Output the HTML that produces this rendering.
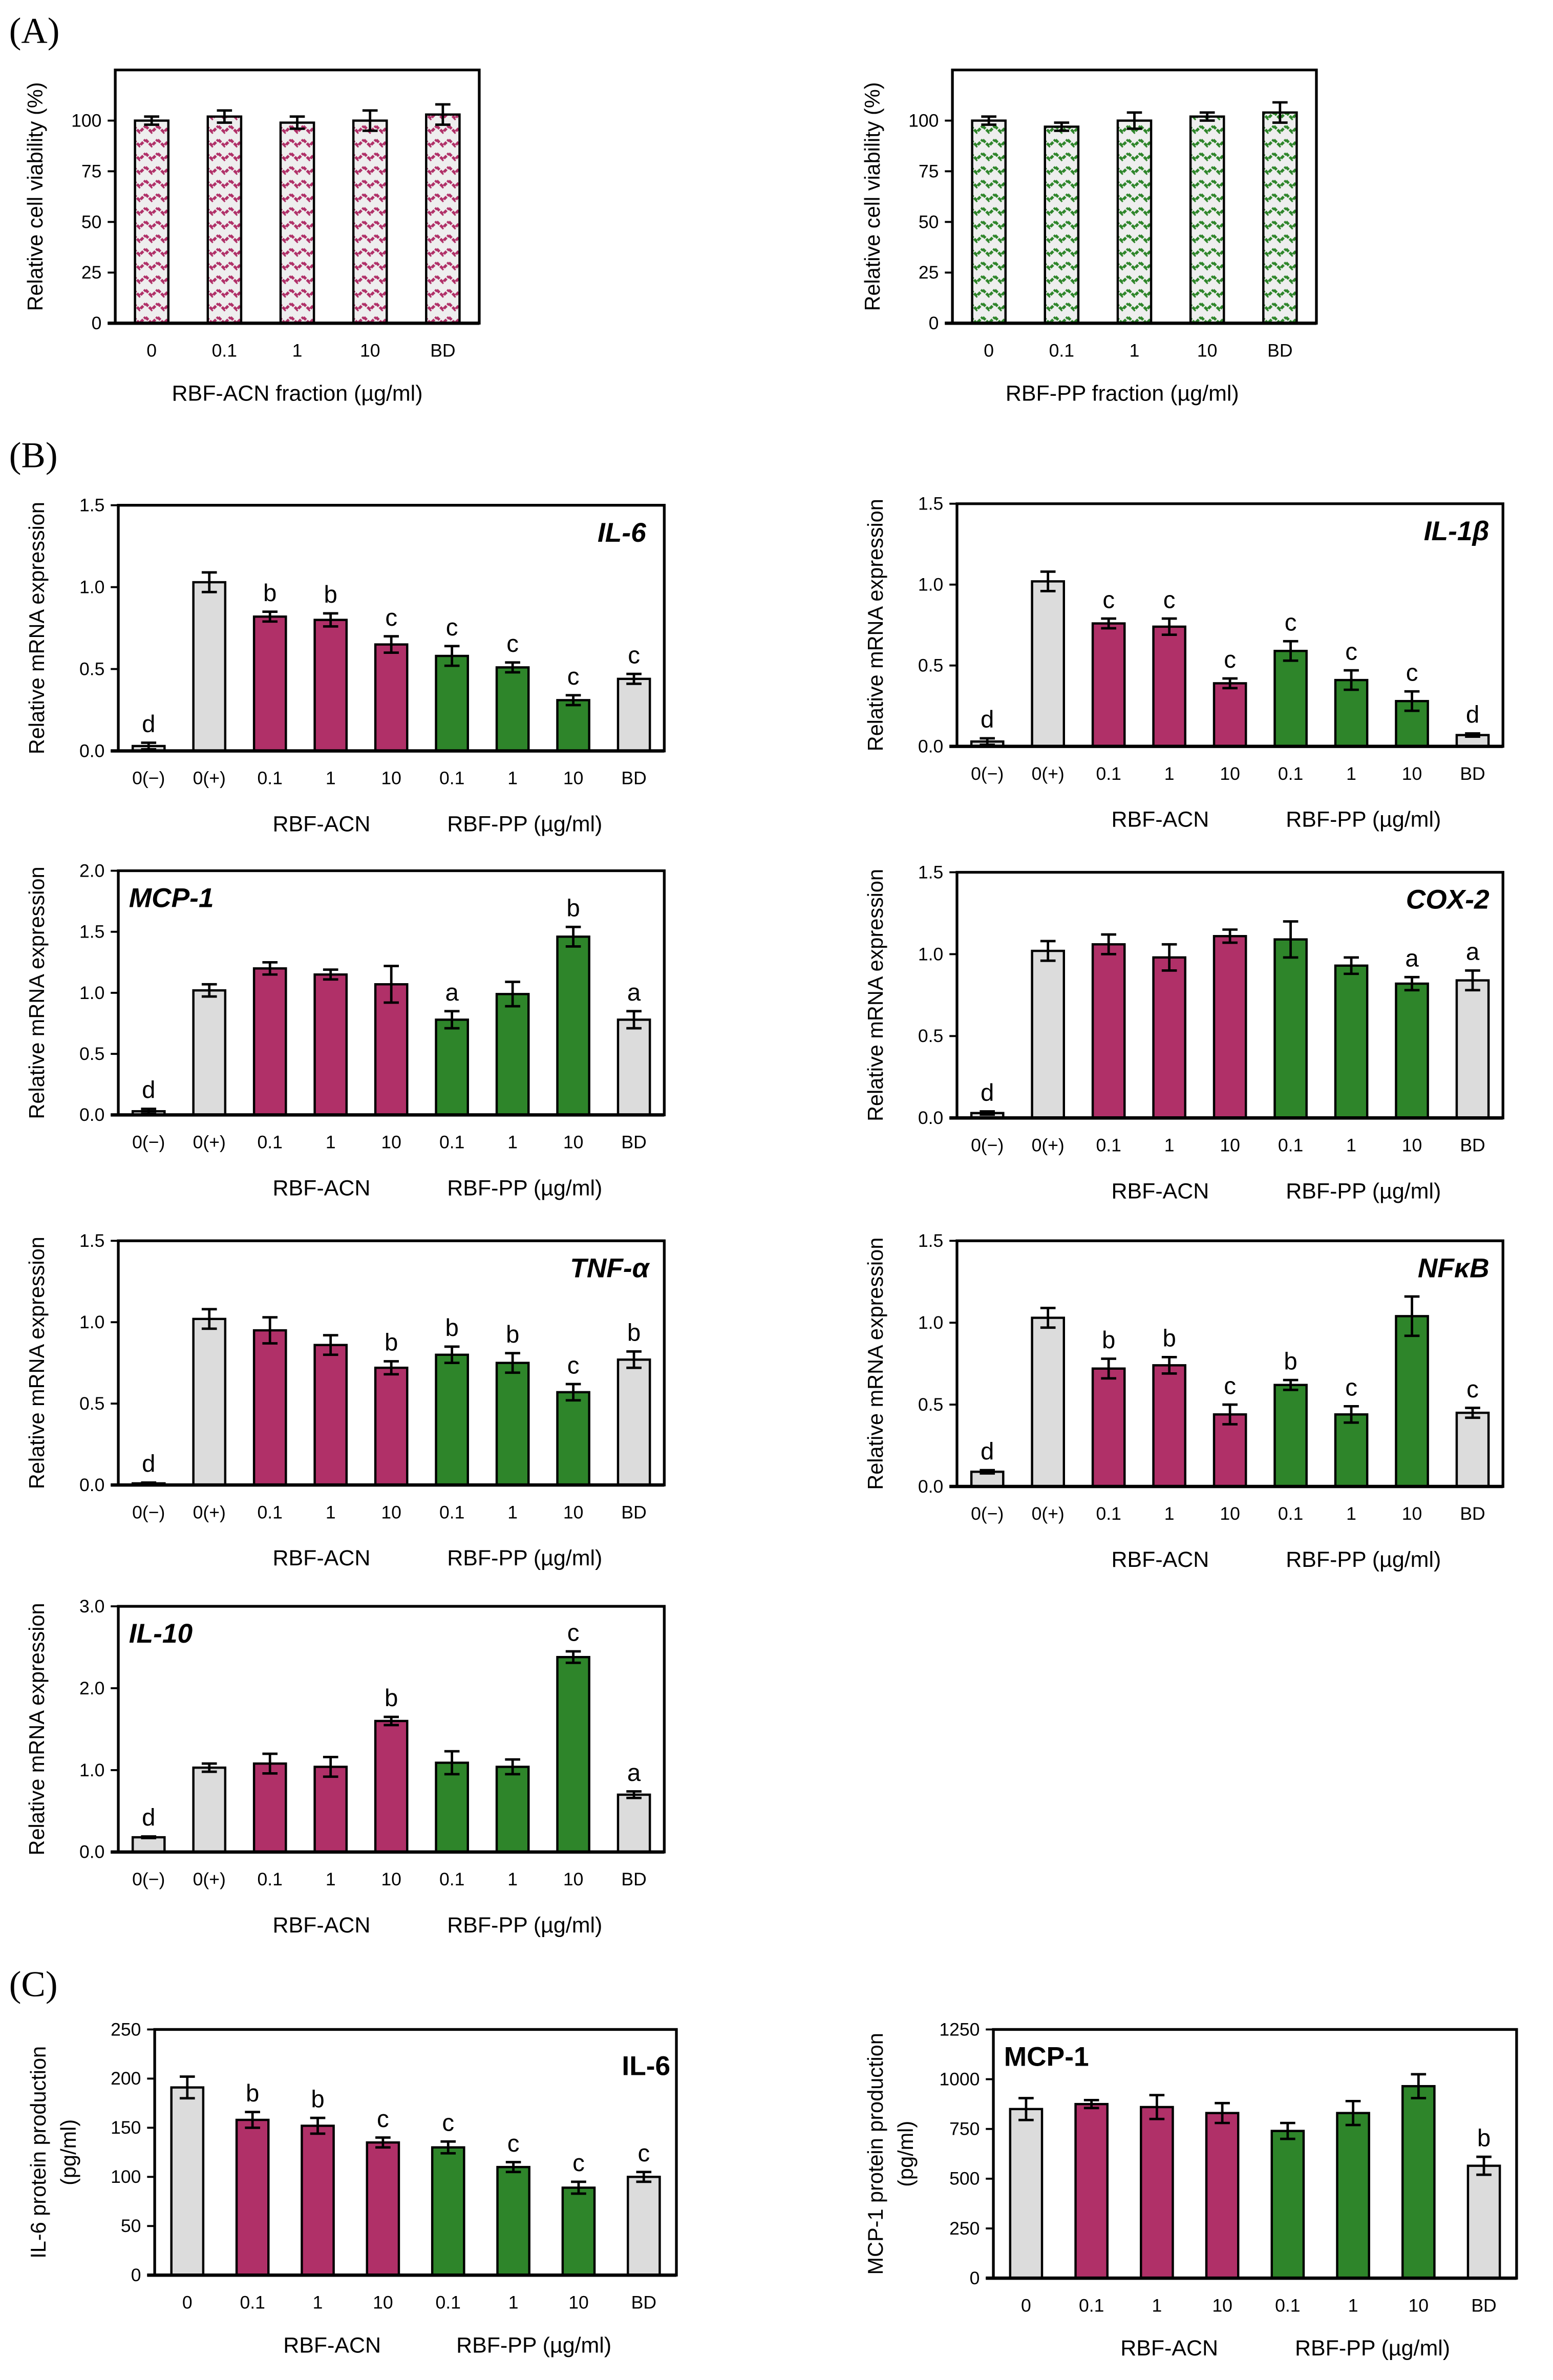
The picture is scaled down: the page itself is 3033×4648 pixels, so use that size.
<!DOCTYPE html>
<html><head><meta charset="utf-8"><style>
html,body{margin:0;padding:0;background:#fff}
svg{display:block}
text{font-family:"Liberation Sans",sans-serif;fill:#000}
</style></head><body>
<svg id="fig" xmlns="http://www.w3.org/2000/svg" width="3033" height="4648" viewBox="0 0 1024 1569">
<defs>
<pattern id="zzM" width="8" height="9" patternUnits="userSpaceOnUse"><rect width="8" height="9" fill="#eeeeee"/><polyline points="0,2 4,6 8,2" fill="none" stroke="#b03068" stroke-width="1.8" stroke-dasharray="2.5 0.8"/></pattern>
<pattern id="zzG" width="8" height="9" patternUnits="userSpaceOnUse"><rect width="8" height="9" fill="#eeeeee"/><polyline points="0,2 4,6 8,2" fill="none" stroke="#2e852a" stroke-width="1.8" stroke-dasharray="2.5 0.8"/></pattern>
</defs>
<text x="6" y="28" style="font-family:'Liberation Serif',serif;font-size:24px">(A)</text>
<text x="6" y="308" style="font-family:'Liberation Serif',serif;font-size:24px">(B)</text>
<text x="6" y="1316" style="font-family:'Liberation Serif',serif;font-size:24px">(C)</text>
</svg>
<script>
// ---- data ----
const catsA = ["0","0.1","1","10","BD"];
const acnViab = [100,102,99,100,103];
const acnViabErr = [2,3,3,5,5];
const ppViab = [100,97,100,102,104];
const ppViabErr = [2,2,4,2,5];
const catsB = ["0(\u2212)","0(+)","0.1","1","10","0.1","1","10","BD"];
const il6Vals = [0.03,1.03,0.82,0.80,0.65,0.58,0.51,0.31,0.44];
const il6Err = [0.02,0.06,0.03,0.04,0.05,0.06,0.03,0.03,0.03];
const il6Let = ["d","","b","b","c","c","c","c","c"];
const il1bVals = [0.03,1.02,0.76,0.74,0.39,0.59,0.41,0.28,0.07];
const il1bErr = [0.02,0.06,0.03,0.05,0.03,0.06,0.06,0.06,0.01];
const il1bLet = ["d","","c","c","c","c","c","c","d"];
const mcp1Vals = [0.03,1.02,1.20,1.15,1.07,0.78,0.99,1.46,0.78];
const mcp1Err = [0.02,0.05,0.05,0.04,0.15,0.07,0.10,0.08,0.07];
const mcp1Let = ["d","","","","","a","","b","a"];
const cox2Vals = [0.03,1.02,1.06,0.98,1.11,1.09,0.93,0.82,0.84];
const cox2Err = [0.01,0.06,0.06,0.08,0.04,0.11,0.05,0.04,0.06];
const cox2Let = ["d","","","","","","","a","a"];
const tnfVals = [0.01,1.02,0.95,0.86,0.72,0.80,0.75,0.57,0.77];
const tnfErr = [0.005,0.06,0.08,0.06,0.04,0.05,0.06,0.05,0.05];
const tnfLet = ["d","","","","b","b","b","c","b"];
const nfkbVals = [0.09,1.03,0.72,0.74,0.44,0.62,0.44,1.04,0.45];
const nfkbErr = [0.01,0.06,0.06,0.05,0.06,0.03,0.05,0.12,0.03];
const nfkbLet = ["d","","b","b","c","b","c","","c"];
const il10Vals = [0.18,1.03,1.08,1.04,1.60,1.09,1.04,2.38,0.70];
const il10Err = [0.01,0.05,0.12,0.12,0.05,0.14,0.09,0.07,0.04];
const il10Let = ["d","","","","b","","","c","a"];
const catsC = ["0","0.1","1","10","0.1","1","10","BD"];
const il6ProtVals = [191,158,152,135,130,110,89,100];
const il6ProtErr = [11,8,8,5,6,5,6,5];
const il6ProtLet = ["","b","b","c","c","c","c","c"];
const mcp1ProtVals = [850,875,860,830,740,830,965,565];
const mcp1ProtErr = [55,20,60,50,40,60,60,45];
const mcp1ProtLet = ["","","","","","","","b"];
const ticks15 = [0,0.5,1.0,1.5];
const ticks20 = [0,0.5,1.0,1.5,2.0];
const ticks30 = [0,1,2,3];
const ticksViab = [0,25,50,75,100];
const ticksC1 = [0,50,100,150,200,250];
const ticksC2 = [0,250,500,750,1000,1250];

const NS="http://www.w3.org/2000/svg";
const svg=document.getElementById('fig');
function mk(tag,attrs,parent){const e=document.createElementNS(NS,tag);for(const k in attrs)e.setAttribute(k,attrs[k]);(parent||svg).appendChild(e);return e;}
function txt(s,x,y,size,parent,extra){const t=mk('text',Object.assign({x:x,y:y,'font-size':size,'text-anchor':'middle'},extra||{}),parent);t.textContent=s;return t;}
const M='#b03068',G='#2e852a',Gr='#dcdcdc';
const colB=[Gr,Gr,M,M,M,G,G,G,Gr];
const colC=[Gr,M,M,M,G,G,G,Gr];

function chart(o){
  const g=mk('g',{});
  
  
  const n=o.cats.length;
  const step=(o.x1-o.x0)/n;
  const xs=i=>o.x0+step*(i+0.5);
  const ys=v=>o.y1-(v/o.ymax)*(o.y1-o.y0);
  o.ticks.forEach(t=>{
    const y=ys(t);
    const l=mk('line',{x1:o.x0-5,x2:o.x0,y1:y,y2:y,stroke:'#000','stroke-width':1.3},g);
    
    
    const tl=txt(o.fmt(t),o.x0-9,y+4,12,g,{'text-anchor':'end'});
    
    
  });
  o.vals.forEach((v,i)=>{
    const x=xs(i),y=ys(v),bw=o.bw;
    const r=mk('rect',{x:x-bw/2,y:y,width:bw,height:o.y1-y,fill:o.fill(i),stroke:'#000','stroke-width':1.5},g);
    
    
    const e=o.err[i],yt=ys(v+e),yb=ys(Math.max(0,v-e));
    const eb=mk('path',{d:`M${x},${yt}V${yb}M${x-5},${yt}H${x+5}M${x-5},${yb}H${x+5}`,stroke:'#000','stroke-width':1.6,fill:'none'},g);
    
    
    if(o.lets&&o.lets[i]){const lt=txt(o.lets[i],x,yt-7,16,g);
      
      }
    const xl=txt(o.cats[i],x,o.labY,12,g);
    
    
  });
  const fr=mk('path',{d:`M${o.x0},${o.y0}H${o.x1}V${o.y1}H${o.x0}Z`,fill:'none',stroke:'#000','stroke-width':1.8},g);
  
  
  const ax=mk('line',{x1:o.x0-5,x2:o.x1,y1:o.y1,y2:o.y1,stroke:'#000','stroke-width':2.2},g);
  
  
  const cy=(o.y0+o.y1)/2;
  o.ytitle.forEach((s,k)=>{const t=txt(s,0,0,14,g,{transform:`translate(${o.x0-(o.ytOff||44)+k*20},${cy}) rotate(-90)`});
    
    });
  if(o.title){const t=txt(o.title,o.tx,o.ty,18,g,{'font-weight':'bold','font-style':o.italic?'italic':'normal','text-anchor':o.tanchor});
    
    }
  o.caps.forEach(c=>{const t=txt(c[0],c[1],o.capY,14.5,g);
    
    });
}
const f1=t=>t.toFixed(1), f0=t=>String(t);
chart({name:'viability-acn-chart',short:'acn',x0:76,x1:316,y0:46,y1:213,ymax:125,ticks:ticksViab,fmt:f0,cats:catsA,vals:acnViab,err:acnViabErr,bw:22,fill:()=> 'url(#zzM)',labY:235,ytitle:['Relative cell viability (%)'],ytOff:48,caps:[['RBF-ACN fraction  (\u00b5g/ml)',196]],capY:264});
chart({name:'viability-pp-chart',short:'pp',x0:628,x1:868,y0:46,y1:213,ymax:125,ticks:ticksViab,fmt:f0,cats:catsA,vals:ppViab,err:ppViabErr,bw:22,fill:()=> 'url(#zzG)',labY:235,ytitle:['Relative cell viability (%)'],ytOff:48,caps:[['RBF-PP fraction  (\u00b5g/ml)',740]],capY:264});
const L={x0:78,x1:438},R={x0:631,x1:991};
function bchart(name,short,pos,y0,y1,ymax,ticks,vals,err,lets,title,tx,tanchor){
  chart({name:name,short:short,x0:pos.x0,x1:pos.x1,y0:y0,y1:y1,ymax:ymax,ticks:ticks,fmt:f1,cats:catsB,vals:vals,err:err,lets:lets,bw:21,fill:i=>colB[i],labY:y1+22,ytitle:['Relative mRNA expression'],ytOff:49,title:title,italic:true,tx:tx,ty:y0+24,tanchor:tanchor,caps:[['RBF-ACN',pos.x0+134],['RBF-PP  (\u00b5g/ml)',pos.x0+268]],capY:y1+53});
}
bchart('il6-mrna-chart','il6',L,333,495,1.5,ticks15,il6Vals,il6Err,il6Let,'IL-6',426,'end');
bchart('il1b-mrna-chart','il1b',R,332,492,1.5,ticks15,il1bVals,il1bErr,il1bLet,'IL-1\u03b2',982,'end');
bchart('mcp1-mrna-chart','mcp1',L,574,735,2.0,ticks20,mcp1Vals,mcp1Err,mcp1Let,'MCP-1',85,'start');
bchart('cox2-mrna-chart','cox2',R,575,737,1.5,ticks15,cox2Vals,cox2Err,cox2Let,'COX-2',982,'end');
bchart('tnfa-mrna-chart','tnfa',L,818,979,1.5,ticks15,tnfVals,tnfErr,tnfLet,'TNF-\u03b1',428,'end');
bchart('nfkb-mrna-chart','nfkb',R,818,980,1.5,ticks15,nfkbVals,nfkbErr,nfkbLet,'NF\u03baB',982,'end');
bchart('il10-mrna-chart','il10',L,1059,1221,3.0,ticks30,il10Vals,il10Err,il10Let,'IL-10',85,'start');
chart({name:'il6-protein-chart',short:'il6p',x0:102,x1:446,y0:1338,y1:1500,ymax:250,ticks:ticksC1,fmt:f0,cats:catsC,vals:il6ProtVals,err:il6ProtErr,lets:il6ProtLet,bw:21,fill:i=>colC[i],labY:1522,ytitle:['IL-6 protein production','(pg/ml)'],ytOff:72,title:'IL-6',italic:false,tx:442,ty:1368,tanchor:'end',caps:[['RBF-ACN',219],['RBF-PP  (\u00b5g/ml)',352]],capY:1551});
chart({name:'mcp1-protein-chart',short:'mcp1p',x0:655,x1:1000,y0:1338,y1:1502,ymax:1250,ticks:ticksC2,fmt:f0,cats:catsC,vals:mcp1ProtVals,err:mcp1ProtErr,lets:mcp1ProtLet,bw:21,fill:i=>colC[i],labY:1524,ytitle:['MCP-1 protein production','(pg/ml)'],ytOff:73,title:'MCP-1',italic:false,tx:662,ty:1362,tanchor:'start',caps:[['RBF-ACN',771],['RBF-PP  (\u00b5g/ml)',905]],capY:1553});
</script>
</body></html>
